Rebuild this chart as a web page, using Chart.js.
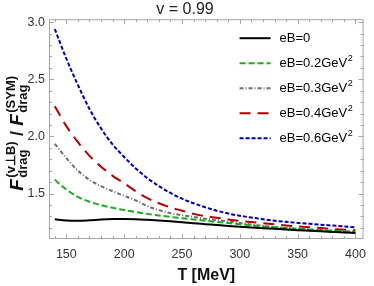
<!DOCTYPE html>
<html><head><meta charset="utf-8">
<script src="https://cdn.jsdelivr.net/npm/chart.js@4.4.1/dist/chart.umd.min.js"></script>
<style>html,body{margin:0;padding:0;background:#fff;}#wrap{width:374px;height:286px;position:relative;}</style>
</head><body><div id="wrap"><canvas id="c" width="374" height="286"></canvas></div>
<script>
const temperatures = [140,150,160,170,180,190,200,210,220,230,240,250,260,270,280,290,300,310,320,330,340,350,360,370,380,390,400];
const eB0  = [1.275,1.264,1.262,1.266,1.272,1.276,1.277,1.275,1.270,1.264,1.257,1.249,1.240,1.232,1.224,1.216,1.209,1.203,1.197,1.191,1.185,1.179,1.174,1.169,1.164,1.159,1.155];
const eB02 = [1.620,1.535,1.470,1.428,1.398,1.375,1.355,1.338,1.322,1.308,1.295,1.284,1.273,1.262,1.252,1.242,1.232,1.222,1.212,1.204,1.197,1.190,1.184,1.178,1.173,1.168,1.163];
const eB03 = [1.935,1.810,1.700,1.620,1.565,1.520,1.480,1.440,1.390,1.355,1.328,1.310,1.295,1.280,1.268,1.255,1.242,1.228,1.217,1.207,1.199,1.192,1.186,1.180,1.175,1.170,1.166];
const eB04 = [2.265,2.090,1.950,1.830,1.735,1.655,1.590,1.520,1.460,1.415,1.378,1.350,1.322,1.302,1.288,1.273,1.260,1.250,1.240,1.230,1.220,1.212,1.205,1.198,1.190,1.184,1.178];
const eB06 = [2.940,2.680,2.450,2.240,2.070,1.930,1.820,1.720,1.635,1.565,1.505,1.455,1.415,1.380,1.350,1.325,1.305,1.290,1.275,1.262,1.252,1.243,1.235,1.227,1.220,1.212,1.205];
const seriesLabels = ['eB=0','eB=0.2GeV','eB=0.3GeV','eB=0.4GeV','eB=0.6GeV'];
const seriesSup = ['','2','2','2','2'];
const xTicks = [150,200,250,300,350,400];
const yTicks = [1.5,2.0,2.5,3.0];
const chartTitle = 'v = 0.99';
const xTitle = 'T [MeV]';

const FONT = "'Liberation Sans', Arial, sans-serif";
const seriesValues = [eB0, eB02, eB03, eB04, eB06];
const seriesColors = ['#000000','#20a820','#6e6e6e','#b00000','#0000b0'];
const seriesDash = [[], [6,3], [4,2,1,2], [11,7], [4,2]];

const datasets = seriesValues.map((vals, i) => ({
  label: seriesLabels[i] + seriesSup[i],
  data: temperatures.map((t, j) => ({x: t, y: vals[j]})),
  borderColor: seriesColors[i],
  backgroundColor: seriesColors[i],
  borderDash: seriesDash[i],
  borderWidth: 2,
  pointRadius: 0,
  cubicInterpolationMode: 'monotone',
  fill: false
}));

const framePlugin = {
  id: 'frame',
  afterDatasetsDraw(chart) {
    const {ctx, chartArea: a, scales: {x, y}} = chart;
    ctx.save();
    ctx.strokeStyle = '#a6a6a6';
    ctx.lineWidth = 1;
    ctx.setLineDash([]);
    ctx.strokeRect(a.left + 0.5, a.top + 0.5, a.right - a.left - 1, a.bottom - a.top - 1);
    ctx.beginPath();
    for (let t = 140; t <= 400; t += 10) {
      const px = Math.round(x.getPixelForValue(t)) + 0.5;
      const len = (t % 50 === 0) ? 5 : 3;
      ctx.moveTo(px, a.bottom); ctx.lineTo(px, a.bottom - len);
      ctx.moveTo(px, a.top); ctx.lineTo(px, a.top + len);
    }
    for (let k = 12; k <= 30; k++) {
      const v = k / 10;
      const py = Math.round(y.getPixelForValue(v)) + 0.5;
      const len = (k % 5 === 0) ? 5 : 3;
      ctx.moveTo(a.left, py); ctx.lineTo(a.left + len, py);
      ctx.moveTo(a.right, py); ctx.lineTo(a.right - len, py);
    }
    ctx.stroke();

    // legend
    const lx0 = a.right - 124, lx1 = a.right - 93, tx = a.right - 84;
    chart.data.datasets.forEach((ds, i) => {
      const ry = a.top + 19 + 25 * i;
      ctx.strokeStyle = ds.borderColor;
      ctx.lineWidth = 2;
      ctx.setLineDash(ds.borderDash);
      ctx.beginPath(); ctx.moveTo(lx0, ry); ctx.lineTo(lx1, ry); ctx.stroke();
      ctx.setLineDash([]);
      ctx.fillStyle = '#000';
      ctx.textBaseline = 'middle';
      ctx.textAlign = 'left';
      ctx.font = '13px ' + FONT;
      ctx.fillText(seriesLabels[i], tx, ry);
      if (seriesSup[i]) {
        const w = ctx.measureText(seriesLabels[i]).width;
        ctx.font = '9px ' + FONT;
        ctx.fillText(seriesSup[i], tx + w + 0.5, ry - 5);
      }
    });

    // y axis title
    const cy = (a.top + a.bottom) / 2 + 4;
    const big = 'italic bold 19px ' + FONT;
    const small = 'bold 13px ' + FONT;
    const slash = 'bold 18px ' + FONT;
    const parts = [
      {t: 'F', f: big},
      {sup: '(v\u22A5B)', sub: 'drag'},
      {t: ' / ', f: slash},
      {t: 'F', f: big},
      {sup: '(SYM)', sub: 'drag'}
    ];
    let total = 0;
    parts.forEach(p => {
      if (p.t) { ctx.font = p.f; p.w = ctx.measureText(p.t).width; }
      else { ctx.font = small; p.w = Math.max(ctx.measureText(p.sup).width, ctx.measureText(p.sub).width) + 2; }
      total += p.w;
    });
    ctx.translate(23, cy + total / 2);
    ctx.rotate(-Math.PI / 2);
    ctx.fillStyle = '#111';
    ctx.textBaseline = 'alphabetic';
    let cx = 0;
    parts.forEach(p => {
      if (p.t) { ctx.font = p.f; ctx.fillText(p.t, cx, 0); }
      else {
        ctx.font = small;
        ctx.fillText(p.sup, cx + 1.5, -8);
        ctx.fillText(p.sub, cx + 1.5, 4);
      }
      cx += p.w;
    });
    ctx.restore();
  }
};

new Chart(document.getElementById('c'), {
  type: 'line',
  data: {datasets},
  plugins: [framePlugin],
  options: {
    responsive: false,
    animation: false,
    devicePixelRatio: 1,
    layout: {padding: {left: 0, right: 4, top: 0, bottom: 0}},
    plugins: {
      legend: {display: false},
      tooltip: {enabled: false},
      title: {display: true, text: chartTitle, color: '#222',
        font: {family: FONT, size: 16, weight: 'normal'}, padding: {top: 0, bottom: 0}}
    },
    scales: {
      x: {
        type: 'linear', min: 135, max: 407,
        grid: {display: false, drawTicks: false}, border: {display: false},
        afterBuildTicks: s => { s.ticks = xTicks.map(v => ({value: v})); },
        afterFit: s => { s.height = 47; },
        ticks: {color: '#333', font: {family: FONT, size: 12.5}, padding: 8, maxRotation: 0,
          callback: v => String(v)},
        title: {display: true, text: xTitle, color: '#111',
          font: {family: FONT, size: 16, weight: 'bold'}, padding: {top: 0, bottom: 1}}
      },
      y: {
        type: 'linear', min: 1.102, max: 3.026,
        grid: {display: false, drawTicks: false}, border: {display: false},
        afterBuildTicks: s => { s.ticks = yTicks.map(v => ({value: v})); },
        afterFit: s => { s.width = 49; },
        ticks: {color: '#333', font: {family: FONT, size: 12.5}, padding: 4,
          callback: v => Number(v).toFixed(1)}
      }
    }
  }
});
</script>
</body></html>
